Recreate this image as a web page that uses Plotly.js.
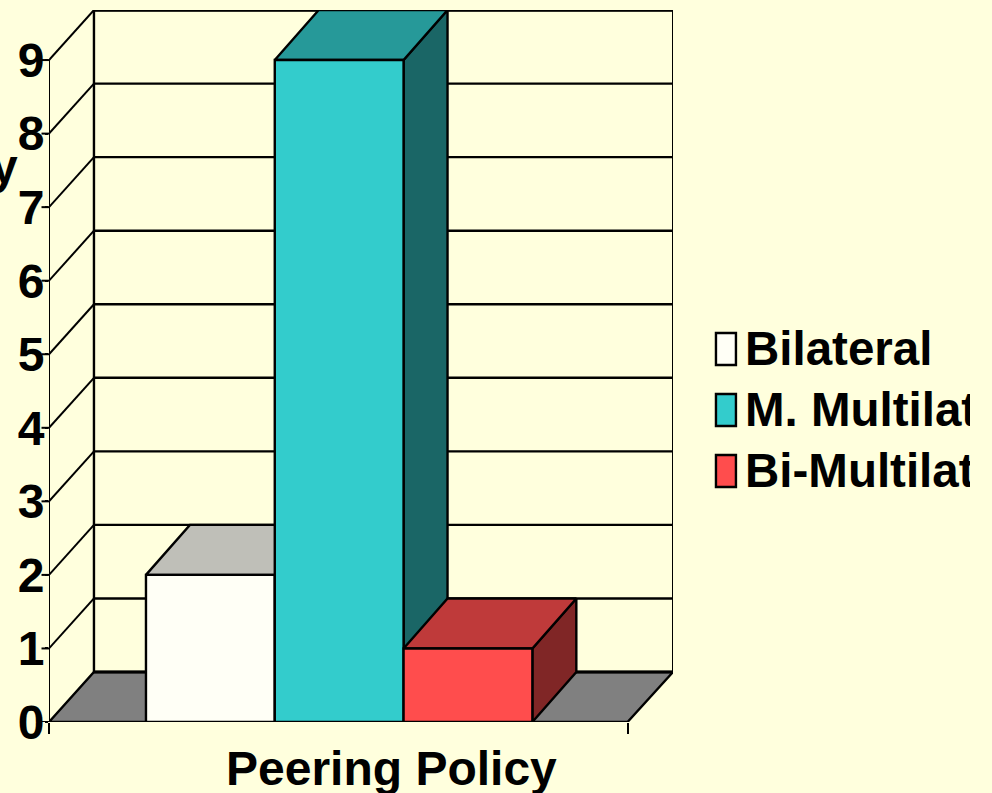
<!DOCTYPE html>
<html>
<head>
<meta charset="utf-8">
<script src="https://cdn.plot.ly/plotly-3.0.1.min.js"></script>
<style>html,body{margin:0;padding:0;background:#FFFFDD;overflow:hidden}</style>
</head>
<body>
<div id="chart" style="width:992px;height:793px"></div>
<script>
const categories = ['Bilateral', 'M. Multilateral', 'Bi-Multilateral'];
const values = [2, 9, 1];
const positions = [0, 1, 2];
const yTicks = [0, 1, 2, 3, 4, 5, 6, 7, 8, 9];
const frontColors = ['#FFFFF6', '#33CCCC', '#FF4D4D'];
const topColors = ['#BFBFB8', '#269999', '#BF3A3A'];
const sideColors = ['#80807B', '#1A6666', '#802626'];

const bg = '#FFFFDD', ink = '#000000', font = 'Liberation Sans, Arial, sans-serif';
const plot = {l: 49, r: 673.5, t: 10, b: 722};
const xScale = 128.9, yScale = 73.55, x0px = 210.5;
const depthX = 45 / xScale, barDepthX = 44 / xScale, depthY = 50 / yScale;
const xMin = (plot.l - x0px) / xScale, xMax = (plot.r - x0px) / xScale;
const xFront = (628 - x0px) / xScale;
const yMax = (plot.b - plot.t) / yScale;
const top9 = yTicks[yTicks.length - 1];

const px = p => (p - plot.l) / (plot.r - plot.l);
const py = p => (plot.b - p) / (plot.b - plot.t);

function poly(xs, ys, fill, w) {
  return {type: 'scatter', mode: 'lines', x: xs, y: ys, fill: 'toself', fillcolor: fill,
          line: {color: ink, width: w || 2.4}, hoverinfo: 'skip', showlegend: false};
}
function path(xs, ys, w) {
  return {type: 'scatter', mode: 'lines', x: xs, y: ys, connectgaps: false,
          line: {color: ink, width: w}, hoverinfo: 'skip', showlegend: false};
}

const traces = [];
// floor
traces.push(poly([xMin, xMin + depthX, xMax, xFront, xMin], [0, depthY, depthY, 0, 0], '#808080', 2.4));
traces.push(path([xMin + depthX, xMax], [depthY, depthY], 3.2));
// back wall grid lines
const gx = [], gy = [], dx = [], dy = [];
yTicks.slice(1).forEach(v => {
  gx.push(xMin + depthX, xMax, null); gy.push(v + depthY, v + depthY, null);
  dx.push(xMin, xMin + depthX, null); dy.push(v, v + depthY, null);
});
traces.push(path(gx, gy, 2.4));
traces.push(path(dx, dy, 2));
traces.push(path([xMin, xMin], [0, top9], 2));
traces.push(path([xMin + depthX, xMin + depthX], [depthY, top9 + depthY], 2.4));
traces.push(path([xMax, xMax], [depthY, top9 + depthY], 2));
traces.push(path([xMin + depthX, xMax], [top9 + depthY, top9 + depthY], 3.2));
// bar tops and sides, drawn behind the bar fronts
positions.forEach((p, i) => {
  const a = p - 0.5, b = p + 0.5, v = values[i];
  traces.push(poly([b, b + barDepthX, b + barDepthX, b, b], [0, depthY, v + depthY, v, 0], sideColors[i]));
  traces.push(poly([a, a + barDepthX, b + barDepthX, b, a], [v, v + depthY, v + depthY, v, v], topColors[i]));
});
// bar fronts
positions.forEach((p, i) => {
  traces.push({type: 'bar', x: [p], y: [values[i]], width: 1, name: categories[i],
    xaxis: 'x2', yaxis: 'y2',
    marker: {color: frontColors[i], line: {color: ink, width: 2.4}},
    hoverinfo: 'name+y', showlegend: false});
});

const legendY = [349, 410, 471];
const shapes = categories.map((c, i) => ({
  type: 'rect', xref: 'paper', yref: 'paper',
  x0: px(716.5), x1: px(736.5), y0: py(legendY[i] - 16), y1: py(legendY[i] + 16),
  fillcolor: frontColors[i], line: {color: ink, width: 2.4}
}));
yTicks.forEach(v => shapes.push({
  type: 'line', xref: 'paper', yref: 'y', x0: px(41.5), x1: px(49), y0: v, y1: v,
  line: {color: ink, width: 2}
}));
const annotations = categories.map((c, i) => ({
  text: c, xref: 'paper', yref: 'paper', x: px(746), y: py(legendY[i] - 1),
  xanchor: 'left', yanchor: 'middle', align: 'left', width: 225, height: 56,
  showarrow: false, borderpad: 0, borderwidth: 0,
  font: {family: font, size: 47.5, color: ink, weight: 700}
}));
annotations.push({
  text: 'Peering Policy', xref: 'paper', yref: 'paper', x: px(392), y: py(768),
  xanchor: 'center', yanchor: 'middle', showarrow: false, borderpad: 0,
  font: {family: font, size: 48, color: ink, weight: 700}
});
annotations.push({
  text: 'y', xref: 'paper', yref: 'paper', x: px(19), y: py(166),
  xanchor: 'right', yanchor: 'middle', showarrow: false, borderpad: 0,
  font: {family: font, size: 48, color: ink, weight: 700}
});

const layout = {
  width: 992, height: 793, autosize: false,
  paper_bgcolor: bg, plot_bgcolor: bg, showlegend: false, barmode: 'overlay',
  margin: {l: plot.l, r: 992 - plot.r, t: plot.t, b: 793 - plot.b, pad: 0},
  xaxis: {range: [xMin, xMax], showgrid: false, zeroline: false, showline: false,
    tickmode: 'array', tickvals: [xMin, xFront], ticktext: ['', ''],
    ticks: 'outside', ticklen: 11, tickwidth: 2, tickcolor: ink, automargin: false},
  yaxis: {range: [0, yMax], showgrid: false, zeroline: false, showline: false,
    tickmode: 'array', tickvals: yTicks, ticktext: yTicks.map(String),
    ticks: 'outside', ticklen: 3, tickwidth: 2, tickcolor: ink, automargin: false,
    ticklabelstandoff: -9,
    tickfont: {family: font, size: 48, color: ink, weight: 700}},
  xaxis2: {overlaying: 'x', matches: 'x', visible: false},
  yaxis2: {overlaying: 'y', matches: 'y', visible: false},
  shapes, annotations
};
Plotly.newPlot('chart', traces, layout, {displayModeBar: false, responsive: false});
</script>
</body>
</html>
